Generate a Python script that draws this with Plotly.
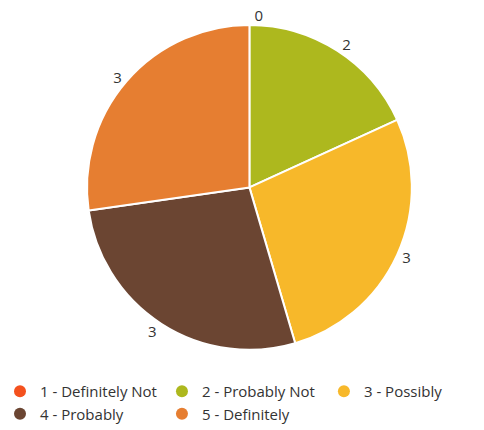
import plotly.graph_objects as go

labels = ["1 - Definitely Not", "2 - Probably Not", "3 - Possibly", "4 - Probably", "5 - Definitely"]
values = [0, 2, 3, 3, 3]
colors = ["#F4511E", "#ADB81E", "#F7B82A", "#6B4532", "#E67E31"]

fig = go.Figure()
fig.add_trace(go.Pie(
    labels=labels, values=values, sort=False, direction="clockwise", rotation=0,
    marker=dict(colors=colors, line=dict(color="white", width=2)),
    textposition="outside", texttemplate="%{value}", textinfo="value",
    textfont=dict(family="Open Sans", size=15, color="#333333"),
    showlegend=False, hoverinfo="label+value",
    domain=dict(x=[0.11, 0.925], y=[0.19, 1.0]),
))
for lab, col in zip(labels, colors):
    fig.add_trace(go.Scatter(
        x=[None], y=[None], mode="markers", name=lab,
        marker=dict(color=col, size=12, symbol="circle"),
    ))

fig.update_layout(
    width=484, height=430, margin=dict(l=0, r=0, t=0, b=0),
    paper_bgcolor="white", plot_bgcolor="white",
    font=dict(family="Open Sans", color="#333333"),
    xaxis=dict(visible=False), yaxis=dict(visible=False),
    legend=dict(orientation="h", x=0.0, xanchor="left", y=-0.01, yanchor="bottom",
                font=dict(family="Open Sans", size=15, color="#333333"),
                itemwidth=30, tracegroupgap=0),
)
fig.write_html("out.html")
